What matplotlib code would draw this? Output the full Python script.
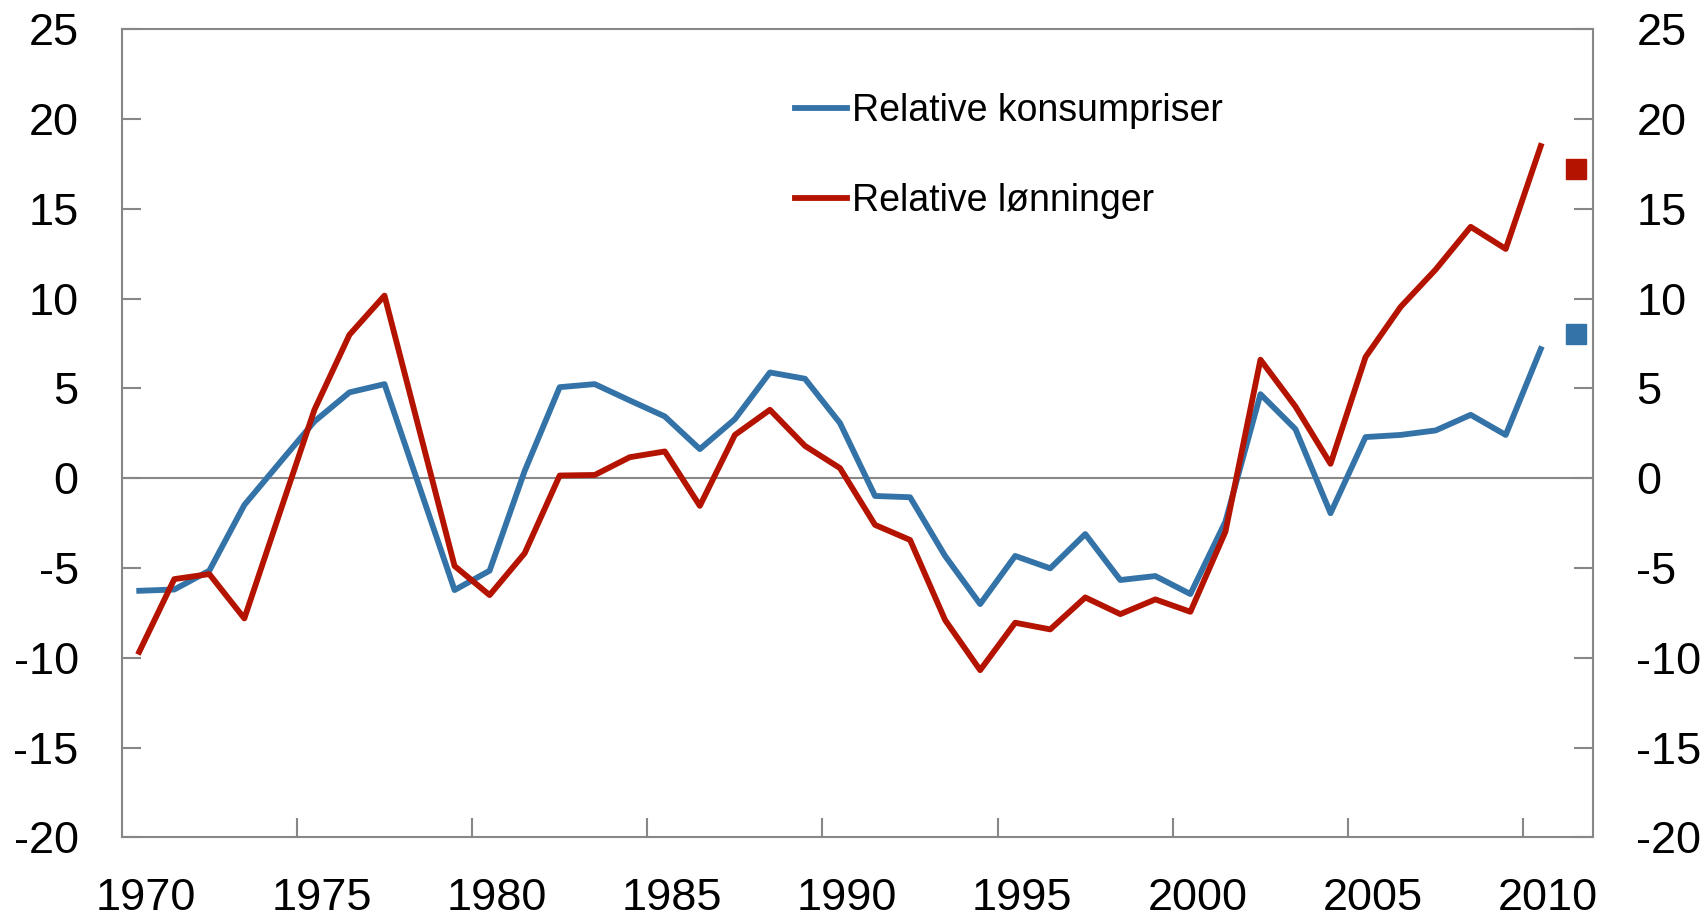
import matplotlib.pyplot as plt
import numpy as np

years = np.arange(1970, 2011)
konsumpriser = [-6.27, -6.2, -5.15, -1.49, 0.84, 3.16, 4.78, 5.24, -0.5, -6.23,
                -5.15, 0.4, 5.07, 5.24, 4.33, 3.44, 1.62, 3.29, 5.89, 5.54,
                3.07, -0.99, -1.06, -4.33, -7.01, -4.33, -5.02, -3.11, -5.67, -5.45,
                -6.45, -2.42, 4.68, 2.73, -1.95, 2.29, 2.41, 2.66, 3.53, 2.41,
                7.19]
lonninger = [-9.67, -5.62, -5.34, -7.81, -1.99, 3.81, 7.99, 10.17, 2.64, -4.89,
             -6.51, -4.18, 0.15, 0.18, 1.17, 1.49, -1.54, 2.41, 3.81, 1.80,
             0.56, -2.60, -3.44, -7.90, -10.69, -8.05, -8.42, -6.64, -7.57, -6.75,
             -7.44, -2.98, 6.60, 3.99, 0.80, 6.75, 9.54, 11.62, 14.0, 12.77,
             18.5]
# single points for 2011
square_year = 2011
square_konsum = 8.03
square_lonn = 17.23

label_years = [1970, 1975, 1980, 1985, 1990, 1995, 2000, 2005, 2010]

blue = '#3473A7'
red = '#B41300'
grey = '#878787'

plt.rcParams['font.family'] = ['Liberation Sans', 'DejaVu Sans']
plt.rcParams['axes.unicode_minus'] = False

fig = plt.figure(figsize=(17.07, 9.16), dpi=100)
ax = fig.add_axes([0.0713, 0.0859, 0.8621, 0.8821])

ax.axhline(0, color=grey, lw=1.5, zorder=1)
ax.plot(years, konsumpriser, color=blue, lw=4.2, label='Relative konsumpriser', zorder=3)
ax.plot(years, lonninger, color=red, lw=4.2, label='Relative lønninger', zorder=3)
ax.plot([square_year], [square_konsum], 's', color=blue, ms=14.5, zorder=3)
ax.plot([square_year], [square_lonn], 's', color=red, ms=14.5, zorder=3)

ax.set_xlim(1969.5, 2011.5)
ax.set_ylim(-20, 25)
ax.set_yticks(np.arange(-20, 26, 5))

# tick marks sit between the years, labels sit on the years
ax.set_xticks([y - 0.5 for y in label_years[1:]])
ax.set_xticklabels([])
ax.set_xticks([y + 0.2 for y in label_years], minor=True)
ax.set_xticklabels([str(y) for y in label_years], minor=True)
ax.tick_params(axis='x', which='major', direction='in', length=14, width=1.5, color=grey)
ax.tick_params(axis='x', which='minor', length=0, pad=29, labelsize=32.5)
ax.tick_params(axis='y', left=True, right=True, labelleft=True, labelright=True,
               direction='in', length=14, width=1.5, color=grey, pad=31, labelsize=32.5)

for s in ax.spines.values():
    s.set_color(grey)
    s.set_linewidth(1.5)

ax.legend(loc='upper left', bbox_to_anchor=(0.4575, 0.921), frameon=False, fontsize=27,
          handlelength=1.39, handletextpad=0.12, labelspacing=1.44, borderpad=0, borderaxespad=0)

plt.savefig('out.png', dpi=100)
